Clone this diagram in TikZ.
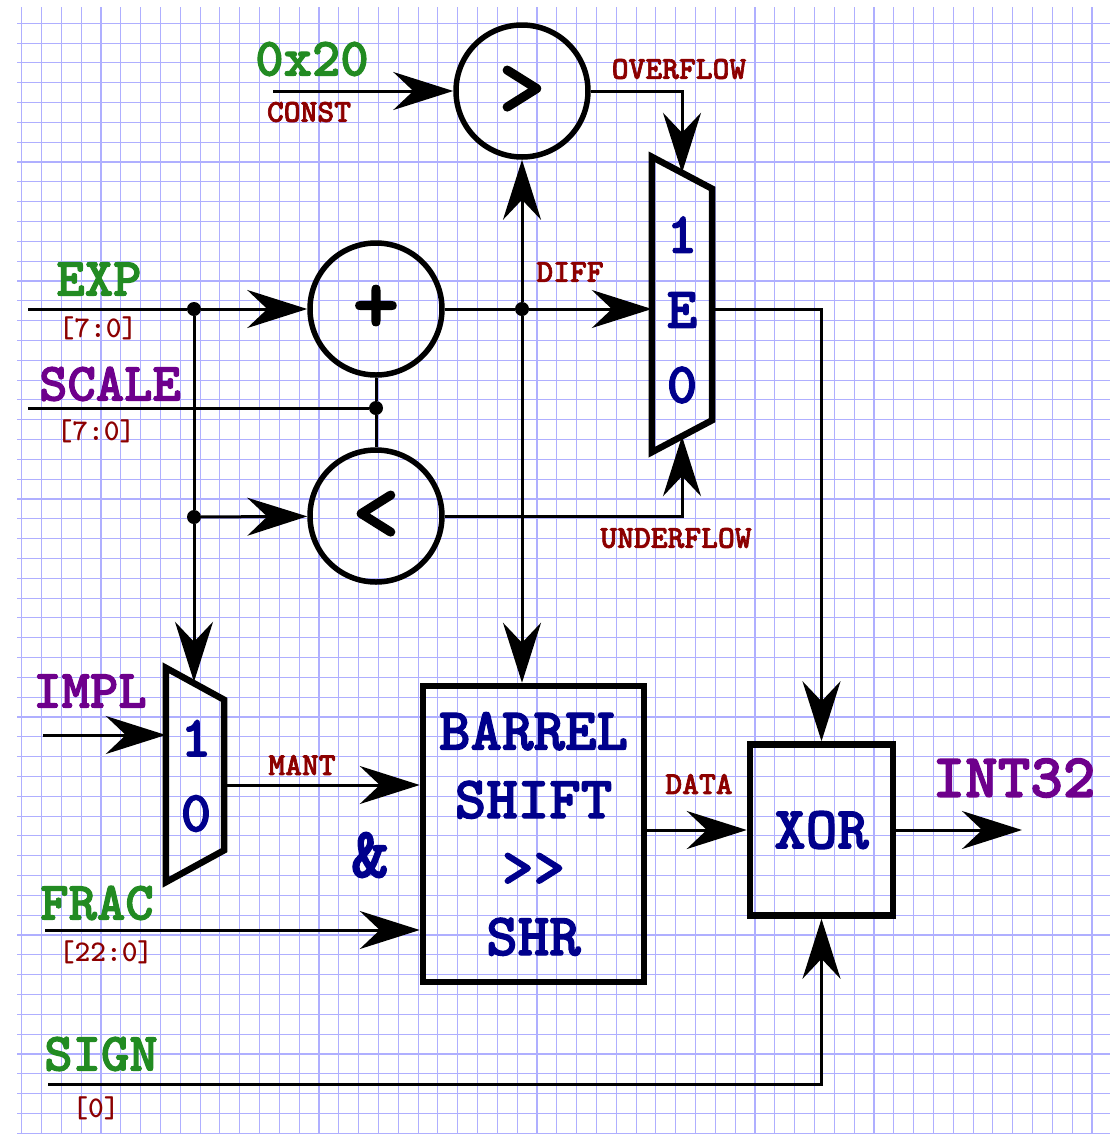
\documentclass[tikz,border=0pt]{standalone}
\usepackage{fontspec}
\usetikzlibrary{arrows.meta,positioning}
\newfontfamily\courbd{lmmonolt10-bold.otf}[FakeBold=2]
\newfontfamily\courmd{lmmonolt10-bold.otf}

\definecolor{gridblue}{RGB}{175,175,255}
\definecolor{siggreen}{RGB}{34,139,34}
\definecolor{sigpurple}{RGB}{110,0,140}
\definecolor{lblred}{RGB}{140,0,0}
\definecolor{boxblue}{RGB}{0,0,140}

\newcommand{\fsz}[1]{\fontsize{#1}{#1}\selectfont}

\begin{document}
\begin{tikzpicture}[x=1pt, y=-1pt,
    gridln/.style={gridblue, line width=1.1pt},
    wire/.style={line width=3pt},
    arr/.style={wire, -{Stealth[length=60pt, width=38pt, inset=20pt]}},
    op/.style={circle, draw, line width=5.5pt, minimum size=132pt, inner sep=0pt,
               font=\courbd\fsz{88}},
    blk/.style={rectangle, draw, line width=6.5pt, inner sep=0pt, align=center,
                text=boxblue, font=\courbd\fontsize{60}{68.5}\selectfont},
    mux/.style={rectangle, inner sep=0pt, minimum width=60pt},
    muxline/.style={line width=6.5pt},
    muxtxt/.style={align=center, inner sep=0pt, text=boxblue,
                   font=\courbd\fontsize{58}{75}\selectfont},
    dot/.style={circle, fill, inner sep=0pt, minimum size=14pt},
    sig/.style={inner sep=0pt, font=\courbd\fsz{54}},
    bus/.style={inner sep=0pt, text=lblred, font=\courmd\fsz{30}},
    tag/.style={inner sep=0pt, text=lblred, font=\courbd\fsz{32}}
]
    \useasboundingbox (0,0) rectangle (1118,1136);

    % grid paper
    \foreach \i in {0,...,54}
        \draw[gridln] ({21.7+19.82*\i},7) -- ({21.7+19.82*\i},1133);
    \foreach \j in {0,...,56}
        \draw[gridln] (17,{23.3+19.82*\j}) -- (1110,{23.3+19.82*\j});

    % operators
    \node[op] (gt)  at (522,91)  {>};
    \node[op] (add) at (376,309) {+};
    \node[op] (lt)  at (376,516) {<};

    % multiplexers
    \node[mux, minimum height=295pt] (emux) at (682,304.5) {};
    \node[muxtxt] (emuxtxt) at (682,310) {1\\E\\0};
    \node[mux, minimum width=58pt, minimum height=214pt] (imux) at (195,775) {};
    \node[muxtxt] (imuxtxt) at (196,776) {1\\0};
    \draw[muxline] (emux.north west) -- ([yshift=-32pt]emux.north east)
        -- ([yshift=32pt]emux.south east) -- (emux.south west) -- cycle;
    \draw[muxline] (imux.north west) -- ([yshift=-32pt]imux.north east)
        -- ([yshift=32pt]imux.south east) -- (imux.south west) -- cycle;

    % blocks
    \node[blk, minimum width=221pt, minimum height=296pt] (bsh) at (533.5,834)
        {BARREL\\SHIFT\\>>\\SHR};
    \node[blk, minimum width=143pt, minimum height=171pt] (xorb) at (821.5,830) {XOR};

    % junctions
    \node[dot] (dexp)  at (194,309) {};
    \node[dot] (dlt)   at (194,517) {};
    \node[dot] (dscl)  at (376,408) {};
    \node[dot] (ddiff) at (522,309) {};

    % free ends
    \coordinate (cnst)   at (273,91);
    \coordinate (expin)  at (28,309);
    \coordinate (sclin)  at (28,408);
    \coordinate (implin) at (43,735);
    \coordinate (fracin) at (45,930);
    \coordinate (signin) at (48,1084);
    \coordinate (out)    at (1022,830);
    \coordinate (isel)   at ([yshift=-14pt]imux.north);
    \coordinate (esel)   at ([yshift=-16pt]emux.north);
    \coordinate (eund)   at ([yshift=16pt]emux.south);
    \coordinate (imuxo)  at ([yshift=-10pt]imux.east);

    % wires
    \draw[arr]  (cnst) -- (gt);
    \draw[wire] (expin) -- (dexp);
    \draw[arr]  (dexp) -- (add);
    \draw[wire] (dexp) -- (dlt);
    \draw[arr]  (dlt) -- (lt);
    \draw[arr]  (dlt) -- (dlt |- isel);
    \draw[wire] (sclin) -- (dscl);
    \draw[wire] (dscl) -- (add);
    \draw[wire] (dscl) -- (lt);
    \draw[wire] (add) -- (ddiff);
    \draw[arr]  (ddiff) -- (ddiff -| emux.west);
    \draw[arr]  (ddiff) -- (gt);
    \draw[arr]  (ddiff) -- (ddiff |- bsh.north);
    \draw[arr]  (gt.east) -| (esel);
    \draw[arr]  (lt.east) -| (eund);
    \draw[arr]  (ddiff -| emux.east) -| (xorb.north);
    \draw[arr]  (implin) -- (implin -| imux.west);
    \draw[arr]  (imuxo) -- (imuxo -| bsh.west);
    \draw[arr]  (fracin) -- (fracin -| bsh.west);
    \draw[arr]  (bsh.east |- xorb) -- (xorb.west);
    \draw[arr]  (signin) -| (xorb.south);
    \draw[arr]  (xorb.east) -- (out);

    % labels
    \node[sig, text=siggreen]  (lconst) at (312,59)   {0x20};
    \node[tag]                 (lcname) at (309,112)  {CONST};
    \node[sig, text=siggreen]  (lexp)   at (99,279)   {EXP};
    \node[bus]                 (lexpb)  at (98,328)   {[7:0]};
    \node[sig, text=sigpurple] (lscl)   at (110,384)  {SCALE};
    \node[bus]                 (lsclb)  at (96,431)   {[7:0]};
    \node[sig, text=sigpurple] (limpl)  at (90,691)   {IMPL};
    \node[sig, text=siggreen]  (lfrac)  at (97,903)   {FRAC};
    \node[bus]                 (lfracb) at (106,952)  {[22:0]};
    \node[sig, text=siggreen]  (lsign)  at (101,1054) {SIGN};
    \node[bus]                 (lsignb) at (96,1108)  {[0]};
    \node[sig, text=sigpurple, font=\courbd\fsz{62}] (lout) at (1014,778) {INT32};
    \node[tag] (lovf)  at (679,69)  {OVERFLOW};
    \node[tag] (ldiff) at (570,272) {DIFF};
    \node[tag] (lunf)  at (676,538) {UNDERFLOW};
    \node[tag] (lmant) at (302,765) {MANT};
    \node[tag] (ldata) at (699,784) {DATA};
    \node[inner sep=0pt, text=boxblue, font=\courbd\fsz{72}] (land) at (370,855) {\&};
\end{tikzpicture}
\end{document}
